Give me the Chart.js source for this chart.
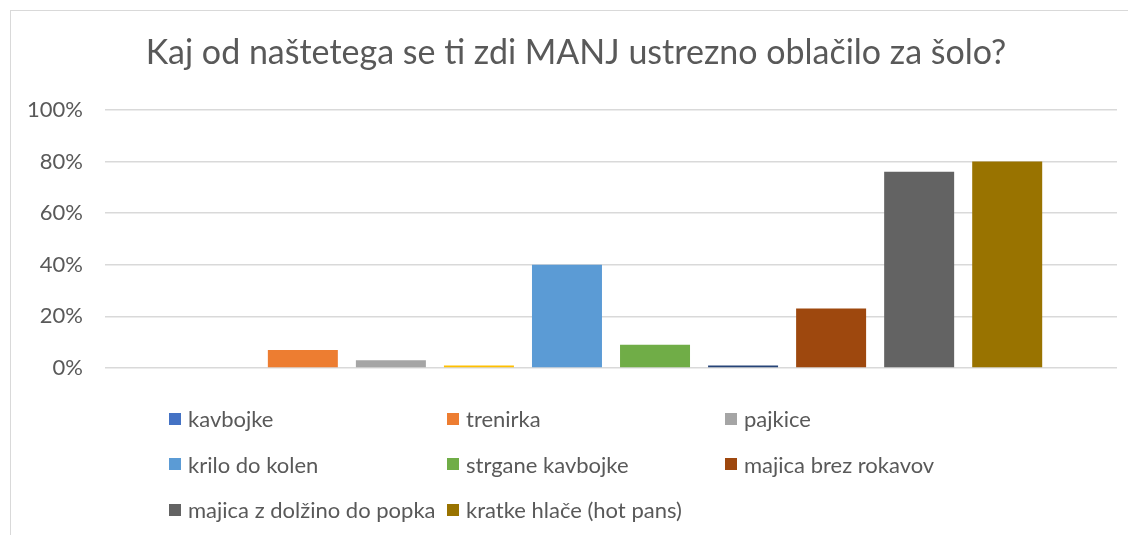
<!DOCTYPE html>
<html>
<head>
<meta charset="utf-8">
<script src="https://cdn.jsdelivr.net/npm/chart.js@4.4.1/dist/chart.umd.min.js"></script>
<style>
  html, body { margin: 0; padding: 0; background: #fff; overflow: hidden; }
  body { width: 1128px; height: 535px; position: relative; }
  #box {
    position: absolute; left: 10px; top: 10px;
    width: 1130px; height: 540px;
    border: 1px solid #d9d9d9; box-sizing: border-box;
  }
  #wrap { position: absolute; left: 0; top: 0; width: 1130px; height: 525px; }
  #legend {
    position: absolute; left: 158px; top: 385px;
    display: grid; grid-template-columns: 278px 278px 278px;
    grid-auto-rows: 45.5px;
    font-family: Lato, sans-serif; font-size: 22px; color: #595959;
  }
  #legend .item { display: flex; align-items: center; white-space: nowrap; }
  #legend .sw { width: 12px; height: 12px; margin-right: 7px; flex: none; }
</style>
</head>
<body>
<div id="box">
  <div id="wrap"><canvas id="chart"></canvas></div>
  <div id="legend"></div>
</div>
<script>
const title = 'Kaj od naštetega se ti zdi MANJ ustrezno oblačilo za šolo?';
const series = ['kavbojke', 'trenirka', 'pajkice', '', 'krilo do kolen', 'strgane kavbojke', '', 'majica brez rokavov', 'majica z dolžino do popka', 'kratke hlače (hot pans)'];
const values = [0, 7, 3, 1, 40, 9, 1, 23, 76, 80];
const colors = ['#4472C4', '#ED7D31', '#A5A5A5', '#FFC000', '#5B9BD5', '#70AD47', '#264478', '#9E480E', '#636363', '#997300'];
const yTicks = [0, 20, 40, 60, 80, 100];

const textColor = '#595959';
const font = 'Lato, sans-serif';

const datasets = series.map((name, i) => ({
  label: name,
  data: [values[i]],
  backgroundColor: colors[i],
  categoryPercentage: 0.87,
  barPercentage: 0.795
}));

const chart = new Chart(document.getElementById('chart'), {
  type: 'bar',
  data: { labels: [''], datasets },
  options: {
    responsive: true,
    maintainAspectRatio: false,
    animation: false,
    layout: { padding: { left: 0, right: 0, top: 0, bottom: 160 } },
    plugins: {
      legend: { display: false },
      tooltip: { enabled: false },
      title: {
        display: true,
        text: title,
        color: textColor,
        font: { family: font, size: 34, weight: 'normal' },
        padding: { top: 22, bottom: 36 }
      }
    },
    scales: {
      x: {
        grid: { display: false },
        border: { display: false },
        ticks: { display: false }
      },
      y: {
        min: 0,
        max: 100,
        afterBuildTicks: s => { s.ticks = yTicks.map(v => ({ value: v })); },
        afterFit: s => { s.width = 94; },
        grid: { color: '#d9d9d9', lineWidth: 1.5, drawTicks: false },
        border: { display: false },
        ticks: {
          padding: 22,
          color: textColor,
          font: { family: font, size: 22 },
          callback: v => v + '%'
        }
      },
      // empty right-hand margin so the title stays centred on the whole box
      yRight: {
        type: 'linear',
        position: 'right',
        display: true,
        min: 0,
        max: 100,
        afterFit: s => { s.width = 24; },
        grid: { display: false },
        border: { display: false },
        ticks: { display: false }
      }
    }
  }
});

// legend as in the original, with the unnamed series left out
const legend = document.getElementById('legend');
chart.data.datasets.forEach(ds => {
  if (!ds.label) return;
  const item = document.createElement('div');
  item.className = 'item';
  const sw = document.createElement('span');
  sw.className = 'sw';
  sw.style.background = ds.backgroundColor;
  const txt = document.createElement('span');
  txt.textContent = ds.label;
  item.appendChild(sw);
  item.appendChild(txt);
  legend.appendChild(item);
});
</script>
</body>
</html>
